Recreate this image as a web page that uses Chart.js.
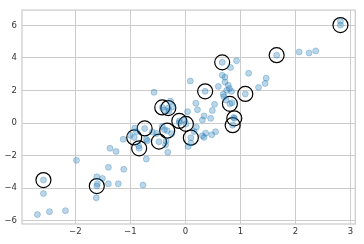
<!DOCTYPE html>
<html lang="en">
<head>
  <meta charset="UTF-8">
  <title>Scatter with selected points</title>
  <script src="https://cdn.jsdelivr.net/npm/chart.js"></script>
  <style>
    body { margin: 0; background: #fff; }
    #wrap { width: 364px; height: 244px; }
  </style>
</head>
<body>
  <div id="wrap"><canvas id="chart" width="364" height="244"></canvas></div>

  <script>
    // all points (x, y)
    const xs = [-2.58, -2.69, -2.47, -2.18, -1.98, -1.61, -1.51, -1.60, -1.62, -1.40,
      -1.40, -1.12, -1.22, -0.77, -1.37, -1.26, -1.13, -0.71, -0.32, -0.36,
      -0.52, -0.71, -0.89, -0.92, -0.69, -0.42, -0.85, -0.27, -0.57, -0.38,
      -0.30, -0.23, 0.09, 0.60, 0.19, 0.22, 0.04, 0.34, 0.49, 0.53,
      0.46, 0.31, -0.02, 0.34, 0.16, 0.37, 0.48, 0.55, 0.05, 0.10,
      0.31, 0.74, 0.69, 0.72, 0.67, 0.93, 0.82, 1.15, 1.47, 1.45,
      1.33, 0.75, 0.78, 0.72, 0.80, 0.84, 0.70, 2.07, 2.25, 2.37,
      2.82, -0.38, -0.11, -0.35, -1.00, -0.60, -0.25, 0.85, 0.88, 0.20,
      -2.58, -1.61, -0.93, -0.84, -0.74, -0.48, -0.33, -0.42, -0.31, -0.11,
      0.01, 0.10, 0.36, 0.67, 1.09, 0.81, 0.89, 0.86, 1.66, 2.82];
    const ys = [-4.33, -5.62, -5.44, -5.38, -2.29, -3.30, -3.40, -3.73, -4.59, -3.73,
      -2.72, -2.84, -3.73, -3.81, -1.55, -1.75, -1.00, -2.21, -1.79, -1.34,
      -0.64, -1.00, -0.53, -0.31, -1.08, -0.21, -1.40, 1.35, 1.89, 0.80,
      0.74, 1.00, 2.58, 2.25, 1.22, 0.82, 0.70, 0.44, 0.78, 1.15,
      0.29, 0.19, 0.19, -0.88, -0.52, -0.62, -0.72, -0.53, -1.44, -1.22,
      -0.78, 1.41, 1.77, 2.82, 2.94, 3.83, 3.41, 3.06, 2.76, 2.43,
      2.19, 2.00, 2.32, 2.52, 2.12, 1.95, 1.62, 4.37, 4.31, 4.43,
      6.25, -0.41, 0.03, -1.10, -0.75, -0.55, -0.65, 1.25, 0.35, -0.25,
      -3.50, -3.87, -0.88, -1.55, -0.33, -1.14, -0.47, 0.96, 0.92, 0.13,
      -0.05, -0.90, 1.95, 3.73, 1.79, 1.18, 0.29, -0.13, 4.17, 6.02];

    // the circled selection
    const selX = [-2.58, -1.61, -0.93, -0.84, -0.74, -0.48, -0.33, -0.42, -0.31, -0.11,
      0.01, 0.10, 0.36, 0.67, 1.09, 0.81, 0.89, 0.86, 1.66, 2.82];
    const selY = [-3.50, -3.87, -0.88, -1.55, -0.33, -1.14, -0.47, 0.96, 0.92, 0.13,
      -0.05, -0.90, 1.95, 3.73, 1.79, 1.18, 0.29, -0.13, 4.17, 6.02];

    const xTicks = [-2, -1, 0, 1, 2, 3];
    const yTicks = [-6, -4, -2, 0, 2, 4, 6];

    const pts = xs.map((x, i) => ({ x: x, y: ys[i] }));
    const sel = selX.map((x, i) => ({ x: x, y: selY[i] }));

    // spines on all four sides, like seaborn whitegrid
    const frame = {
      id: 'frame',
      beforeDatasetsDraw(chart) {
        const a = chart.chartArea, ctx = chart.ctx;
        ctx.save();
        ctx.strokeStyle = '#cccccc';
        ctx.lineWidth = 1.25;
        ctx.strokeRect(a.left, a.top, a.right - a.left, a.bottom - a.top);
        ctx.restore();
      }
    };

    const tickFont = { family: 'DejaVu Sans', size: 8.5 };
    const fmt = v => String(v).replace('-', '\u2212');

    new Chart(document.getElementById('chart'), {
      type: 'scatter',
      data: {
        datasets: [{
          data: pts,
          pointRadius: 3,
          pointBorderWidth: 1,
          backgroundColor: 'rgba(31, 119, 180, 0.3)',
          borderColor: 'rgba(31, 119, 180, 0.3)'
        }, {
          data: sel,
          pointRadius: 7.5,
          pointBorderWidth: 1.2,
          backgroundColor: 'rgba(0, 0, 0, 0)',
          borderColor: '#000'
        }]
      },
      options: {
        responsive: false,
        animation: false,
        layout: { padding: { top: 7, right: 7, left: 0, bottom: 0 } },
        plugins: { legend: { display: false }, tooltip: { enabled: false } },
        scales: {
          x: {
            type: 'linear',
            min: -2.97,
            max: 3.09,
            afterBuildTicks: s => { s.ticks = xTicks.map(v => ({ value: v })); },
            afterFit: s => { s.height = 20; },
            grid: { color: '#cccccc', lineWidth: 1, drawTicks: false },
            border: { display: false },
            ticks: { font: tickFont, color: '#333', padding: 3, callback: fmt, maxRotation: 0 }
          },
          y: {
            type: 'linear',
            min: -6.2,
            max: 6.94,
            afterBuildTicks: s => { s.ticks = yTicks.map(v => ({ value: v })); },
            afterFit: s => { s.width = 22; },
            grid: { color: '#cccccc', lineWidth: 1, drawTicks: false },
            border: { display: false },
            ticks: { font: tickFont, color: '#333', padding: 5, callback: fmt }
          }
        }
      },
      plugins: [frame]
    });
  </script>
</body>
</html>
